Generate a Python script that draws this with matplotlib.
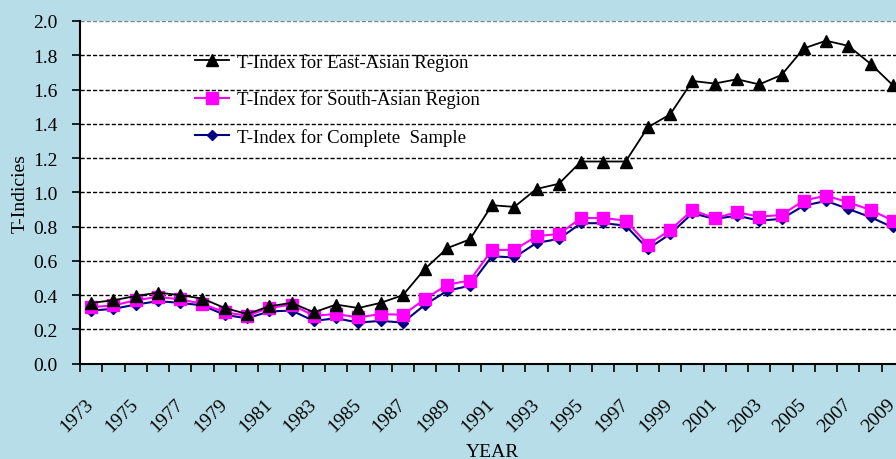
import numpy as np
import matplotlib
matplotlib.use("Agg")
import matplotlib.pyplot as plt
from matplotlib.ticker import MultipleLocator, FixedLocator

years = list(range(1973, 2010))

east_asia = [0.355, 0.37, 0.395, 0.415, 0.40, 0.38, 0.325, 0.29, 0.335, 0.355,
             0.30, 0.345, 0.325, 0.355, 0.40, 0.555, 0.675, 0.725, 0.925, 0.915,
             1.02, 1.05, 1.18, 1.18, 1.18, 1.38, 1.455, 1.65, 1.635, 1.66,
             1.63, 1.685, 1.84, 1.885, 1.855, 1.75, 1.625]
south_asia = [0.33, 0.34, 0.37, 0.39, 0.375, 0.35, 0.30, 0.28, 0.325, 0.345,
              0.28, 0.29, 0.27, 0.29, 0.285, 0.378, 0.462, 0.485, 0.664, 0.664,
              0.744, 0.757, 0.85, 0.85, 0.835, 0.695, 0.78, 0.897, 0.849, 0.884,
              0.858, 0.868, 0.952, 0.981, 0.942, 0.897, 0.835]
complete = [0.31, 0.32, 0.345, 0.365, 0.355, 0.34, 0.285, 0.265, 0.305, 0.31,
            0.25, 0.265, 0.24, 0.25, 0.24, 0.345, 0.426, 0.455, 0.627, 0.62,
            0.705, 0.728, 0.82, 0.82, 0.806, 0.67, 0.757, 0.878, 0.845, 0.864,
            0.835, 0.845, 0.922, 0.95, 0.903, 0.855, 0.796]

labels = ["T-Index for East-Asian Region",
          "T-Index for South-Asian Region",
          "T-Index for Complete  Sample"]

plt.rcParams["font.family"] = ["Liberation Serif", "DejaVu Serif"]
plt.rcParams["font.size"] = 14

W, H = 896, 460
fig = plt.figure(figsize=(W / 100, H / 100), dpi=100, facecolor="#b7dde8")
# axes runs a bit past the right edge, as in the cropped original
ax = fig.add_axes([80 / W, 1 - 364.7 / H, 824 / W, 342.7 / H])
ax.set_facecolor("white")

x = np.arange(len(years))
l3, = ax.plot(x, complete, color="#000080", lw=1.5, marker="D", ms=5,
              label=labels[2], zorder=3)
l2, = ax.plot(x, south_asia, color="#ff00ff", lw=1.5, marker="s", ms=8,
              label=labels[1], zorder=4)
l1, = ax.plot(x, east_asia, color="black", lw=1.3, marker="^", ms=8.5,
              label=labels[0], zorder=5)

ax.set_xlim(-0.5, len(years) - 0.5)
ax.set_ylim(0, 2.0)
ax.yaxis.set_major_locator(MultipleLocator(0.2))
ax.yaxis.set_major_formatter(matplotlib.ticker.FormatStrFormatter("%.1f"))

for yv in np.arange(0.2, 2.01, 0.2):
    c = "#808080" if yv > 1.99 else "black"
    ax.axhline(yv, color=c, lw=1, ls=(0, (3, 1.5)), zorder=1)

ax.xaxis.set_major_locator(FixedLocator(x[::2]))
ax.set_xticklabels([str(y) for y in years[::2]], rotation=45,
                   ha="right", va="center", rotation_mode="anchor")
ax.xaxis.set_minor_locator(FixedLocator(np.arange(-0.5, len(years), 1)))
ax.tick_params(axis="x", which="major", length=0, pad=27)
ax.tick_params(axis="x", which="minor", length=6, width=1.2, direction="out")
ax.tick_params(axis="y", length=6, width=1.2, direction="out", pad=10)

for s in ["top", "right"]:
    ax.spines[s].set_visible(False)
ax.spines["left"].set_linewidth(1.5)
ax.spines["bottom"].set_linewidth(1.5)

ax.set_ylabel("T-Indicies", fontsize=14, labelpad=3)
ax.set_xlabel("YEAR", fontsize=14, labelpad=6)

leg = ax.legend(handles=[l1, l2, l3], loc="upper left",
                bbox_to_anchor=(195 / W, 1 - 54 / H), bbox_transform=fig.transFigure,
                frameon=False, fontsize=13.5, handlelength=1.8, handletextpad=0.45,
                labelspacing=1.05, borderpad=0, borderaxespad=0)

fig.savefig("out.png", dpi=100, facecolor=fig.get_facecolor())
